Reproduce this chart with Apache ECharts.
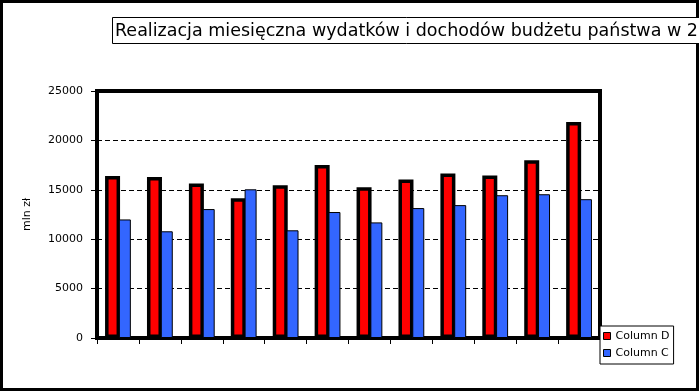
<!DOCTYPE html>
<html>
<head>
<meta charset="utf-8">
<script src="https://cdn.jsdelivr.net/npm/echarts@6/dist/echarts.min.js"></script>
<style>
html,body{margin:0;padding:0;background:#fff;}
#chart{width:699px;height:391px;}
</style>
</head>
<body>
<div id="chart"></div>
<script>
const titleText = 'Realizacja miesięczna wydatków i dochodów budżetu państwa w 2';
const categories = ['1','2','3','4','5','6','7','8','9','10','11','12'];
const seriesNames = ['Column D','Column C'];
const columnD = [16400,16300,15650,14150,15450,17500,15250,16050,16650,16450,18000,21850];
const columnC = [12000,10800,13050,15050,10900,12750,11700,13150,13450,14450,14550,14050];
const yMin = 0, yMax = 25000, yStep = 5000;
const yAxisName = 'mln zł';

const FONT = 'DejaVu Sans';
const chart = echarts.init(document.getElementById('chart'), null, {renderer:'canvas'});
chart.setOption({
  animation:false,
  backgroundColor:'#fff',
  graphic:[{
    type:'rect', z:0, silent:true,
    shape:{x:1.5,y:1.5,width:696,height:388},
    style:{fill:'none',stroke:'#000',lineWidth:3}
  }],
  title:{
    text:titleText,
    left:112, top:17, z:10,
    padding:[5,80,4,3],
    backgroundColor:'#fff',
    borderColor:'#000', borderWidth:1,
    textStyle:{fontFamily:FONT,fontSize:17.5,fontWeight:'normal',color:'#000',lineHeight:18}
  },
  legend:{
    orient:'vertical',
    left:600, top:326, z:10,
    padding:[4,4,5,3],
    backgroundColor:'#fff',
    borderColor:'#000', borderWidth:1,
    itemWidth:7, itemHeight:7, itemGap:5,
    icon:'rect',
    itemStyle:{borderColor:'#000',borderWidth:1},
    textStyle:{fontFamily:FONT,fontSize:11,color:'#000',lineHeight:12},
    data:seriesNames
  },
  grid:{
    left:97, top:91, right:99, bottom:53,
    show:true, borderColor:'#000', borderWidth:4, backgroundColor:'#fff'
  },
  xAxis:{
    type:'category', data:categories,
    axisLine:{show:false},
    axisTick:{show:true,interval:0,length:6,lineStyle:{color:'#000',width:1}},
    axisLabel:{show:false},
    splitLine:{show:false}
  },
  yAxis:{
    type:'value', min:yMin, max:yMax, interval:yStep,
    name:yAxisName, nameLocation:'middle', nameGap:64,
    nameTextStyle:{fontFamily:FONT,fontSize:11,color:'#000'},
    axisLine:{show:false},
    axisTick:{show:true,length:6,lineStyle:{color:'#000',width:1}},
    axisLabel:{fontFamily:FONT,fontSize:11,color:'#000',margin:14,formatter:v=>String(v)},
    splitLine:{show:true,lineStyle:{color:'#000',width:1,type:[5,3]}}
  },
  series:[
    {name:seriesNames[0], type:'bar', data:columnD, barWidth:15, barGap:'-8%',
     itemStyle:{color:'#ff0000',borderColor:'#000',borderWidth:3.5}},
    {name:seriesNames[1], type:'bar', data:columnC, barWidth:12, barGap:'-8%',
     itemStyle:{color:'#3366ff',borderColor:'#000',borderWidth:1}}
  ]
});
</script>
</body>
</html>
